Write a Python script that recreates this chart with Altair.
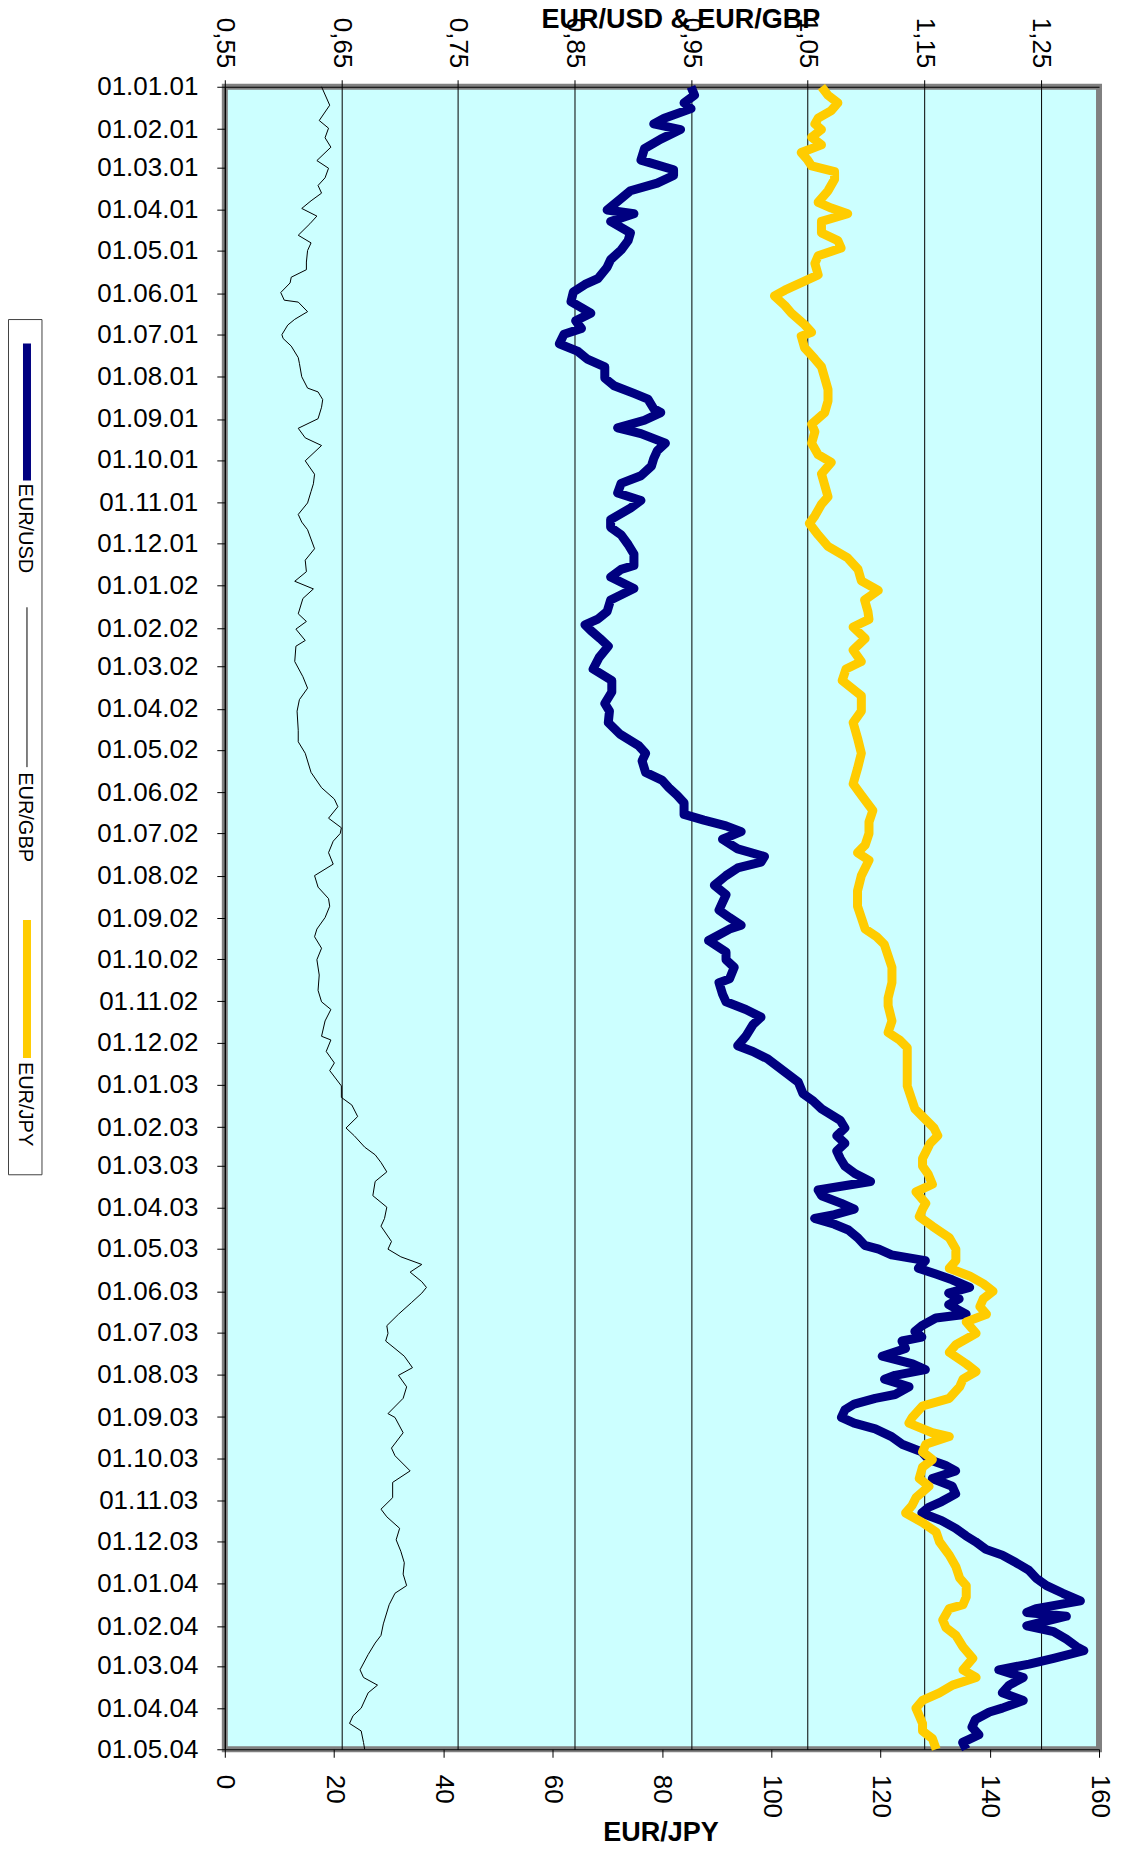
import altair as alt
import pandas as pd

SERIES = ["EUR/USD", "EUR/GBP", "EUR/JPY"]
COLORS = ["#000080", "#000000", "#FFCC00"]
START = "2001-01-01"
END = "2004-05-01"

# days since 01.01.01 and rates
USD_DAYS = [0, 6.2, 11.8, 16.0, 23.0, 27.2, 31.3, 38.3, 45.3, 53.7, 60.7, 64.9, 70.5, 76.1, 81.7, 90.1,
            92.9, 98.5, 106.9, 112.5, 119.4, 126.4, 132.0, 140.4, 144.6, 150.2, 157.2, 165.6, 171.2,
            176.8, 181.0, 188.0, 193.6, 199.2, 204.8, 213.1, 218.7, 224.3, 228.5, 235.5, 238.3, 243.9,
            249.5, 253.7, 260.7, 266.3, 271.9, 277.5, 284.5, 290.1, 297.1, 302.6, 308.2, 316.6, 322.2,
            327.8, 334.8, 341.8, 350.2, 353.0, 358.6, 367.0, 375.4, 383.8, 389.4, 393.5, 397.7, 403.6,
            409.2, 417.6, 425.9, 434.3, 442.7, 451.1, 456.7, 465.1, 473.5, 481.9, 487.5, 493.1, 501.5,
            507.1, 512.7, 518.2, 523.8, 532.2, 536.4, 540.6, 544.8, 550.4, 557.4, 563.0, 567.2, 571.4,
            577.0, 584.0, 591.0, 596.6, 602.2, 607.7, 613.3, 616.1, 624.5, 632.9, 638.5, 644.1, 652.5,
            655.3, 663.7, 669.3, 674.9, 680.5, 686.1, 694.5, 701.4, 705.6, 711.2, 719.6, 728.0, 736.4,
            742.0, 747.6, 756.0, 761.6, 767.2, 772.8, 778.4, 783.9, 789.5, 795.1, 800.7, 806.9, 811.1,
            816.7, 820.9, 825.0, 827.8, 832.0, 836.2, 841.8, 847.4, 850.2, 854.4, 858.6, 864.2, 868.4,
            872.6, 878.2, 882.4, 886.6, 890.8, 897.8, 900.6, 906.2, 910.4, 914.5, 917.4, 922.9, 928.5,
            934.1, 938.3, 942.5, 945.3, 950.9, 956.5, 959.3, 963.5, 967.7, 973.3, 977.5, 981.7, 987.3,
            992.9, 998.5, 1004.1, 1008.2, 1012.4, 1018.0, 1023.6, 1029.2, 1034.8, 1039.0, 1043.2, 1048.8,
            1054.4, 1060.0, 1064.2, 1069.8, 1074.0, 1079.6, 1085.2, 1090.8, 1096.3, 1101.9, 1107.5,
            1113.1, 1115.9, 1118.7, 1125.7, 1129.9, 1135.5, 1141.1, 1143.9, 1149.5, 1153.7, 1157.9,
            1163.5, 1169.1, 1174.7, 1180.3, 1185.9, 1188.7, 1194.2, 1199.8, 1205.4, 1211.0, 1216.0]
USD_VALUES = [0.950, 0.953, 0.944, 0.950, 0.927, 0.918, 0.941, 0.924, 0.910, 0.907, 0.935, 0.935, 0.921,
              0.898, 0.890, 0.878, 0.901, 0.881, 0.898, 0.896, 0.890, 0.881, 0.878, 0.870, 0.859, 0.849,
              0.847, 0.864, 0.851, 0.856, 0.841, 0.837, 0.853, 0.861, 0.876, 0.876, 0.884, 0.901, 0.913,
              0.918, 0.924, 0.910, 0.887, 0.907, 0.928, 0.921, 0.918, 0.916, 0.907, 0.890, 0.887, 0.907,
              0.898, 0.881, 0.881, 0.890, 0.896, 0.901, 0.901, 0.890, 0.881, 0.901, 0.881, 0.878, 0.870,
              0.859, 0.864, 0.872, 0.879, 0.871, 0.866, 0.882, 0.882, 0.876, 0.880, 0.879, 0.889, 0.905,
              0.911, 0.908, 0.911, 0.925, 0.931, 0.938, 0.944, 0.944, 0.961, 0.980, 0.993, 0.977, 0.990,
              1.013, 1.010, 0.990, 0.980, 0.970, 0.980, 0.977, 0.974, 0.983, 0.993, 0.983, 0.965, 0.980,
              0.980, 0.987, 0.983, 0.974, 0.977, 0.980, 0.997, 1.010, 1.003, 0.997, 0.990, 1.003, 1.016,
              1.029, 1.042, 1.046, 1.055, 1.062, 1.078, 1.082, 1.075, 1.082, 1.075, 1.078, 1.082, 1.091,
              1.104, 1.059, 1.062, 1.079, 1.090, 1.073, 1.056, 1.073, 1.085, 1.093, 1.099, 1.111, 1.122,
              1.151, 1.145, 1.160, 1.174, 1.189, 1.171, 1.180, 1.171, 1.186, 1.160, 1.148, 1.142, 1.148,
              1.131, 1.134, 1.114, 1.140, 1.151, 1.125, 1.116, 1.137, 1.125, 1.108, 1.090, 1.082, 1.079,
              1.090, 1.108, 1.122, 1.131, 1.148, 1.154, 1.168, 1.177, 1.157, 1.174, 1.177, 1.165, 1.154,
              1.148, 1.165, 1.177, 1.186, 1.194, 1.203, 1.217, 1.229, 1.240, 1.246, 1.255, 1.269, 1.284,
              1.246, 1.238, 1.272, 1.238, 1.261, 1.272, 1.281, 1.287, 1.261, 1.240, 1.214, 1.235, 1.223,
              1.217, 1.235, 1.217, 1.206, 1.194, 1.191, 1.197, 1.183, 1.186]

GBP_DAYS = [0, 13.5, 24.7, 30.3, 37.3, 44.2, 54.0, 59.6, 66.6, 72.2, 77.8, 83.4, 89.0, 94.6, 100.2, 108.6,
            114.2, 119.8, 128.2, 133.8, 139.3, 143.5, 150.5, 156.1, 157.5, 164.5, 170.1, 174.3, 181.3,
            184.1, 189.7, 198.1, 202.3, 212.1, 220.4, 223.2, 228.8, 234.4, 242.8, 249.8, 256.8, 262.4,
            273.6, 283.4, 290.4, 296.0, 304.4, 312.8, 318.4, 324.0, 337.9, 346.3, 354.7, 361.7, 367.3,
            374.3, 385.5, 391.1, 396.7, 405.0, 409.2, 420.4, 431.5, 439.9, 448.3, 456.7, 470.7, 479.1,
            487.5, 501.5, 512.7, 521.0, 526.6, 535.0, 542.0, 546.2, 551.8, 560.2, 568.6, 577.0, 585.4,
            593.8, 599.4, 607.7, 616.1, 621.7, 630.1, 638.5, 649.7, 660.9, 669.3, 674.9, 683.3, 694.5,
            697.2, 705.6, 714.0, 719.6, 730.8, 739.2, 744.8, 753.2, 761.6, 767.2, 775.6, 781.2, 786.8,
            793.7, 800.7, 811.1, 819.5, 827.8, 833.4, 844.6, 850.2, 855.8, 861.4, 867.0, 874.0, 878.2,
            882.4, 889.4, 897.8, 906.2, 911.8, 917.4, 922.9, 928.5, 936.9, 942.5, 950.9, 959.3, 970.5,
            973.3, 984.5, 995.7, 1001.3, 1012.4, 1020.8, 1032.0, 1040.4, 1046.0, 1054.4, 1062.8, 1071.2,
            1079.6, 1087.9, 1096.3, 1101.9, 1110.3, 1124.3, 1132.7, 1138.3, 1146.7, 1157.9, 1163.5,
            1169.1, 1174.7, 1185.9, 1191.5, 1197.1, 1202.6, 1211.0, 1216.0]
GBP_VALUES = [0.633, 0.640, 0.631, 0.639, 0.636, 0.641, 0.629, 0.639, 0.636, 0.630, 0.633, 0.624, 0.616,
              0.629, 0.623, 0.613, 0.624, 0.621, 0.620, 0.620, 0.607, 0.606, 0.598, 0.601, 0.613, 0.621,
              0.610, 0.604, 0.599, 0.600, 0.607, 0.613, 0.614, 0.616, 0.621, 0.630, 0.634, 0.633, 0.630,
              0.613, 0.619, 0.633, 0.619, 0.627, 0.626, 0.624, 0.621, 0.613, 0.616, 0.621, 0.627, 0.619,
              0.620, 0.610, 0.626, 0.617, 0.613, 0.620, 0.611, 0.619, 0.611, 0.610, 0.617, 0.621, 0.614,
              0.612, 0.613, 0.613, 0.619, 0.624, 0.633, 0.644, 0.647, 0.639, 0.650, 0.649, 0.643, 0.639,
              0.643, 0.627, 0.630, 0.639, 0.640, 0.636, 0.629, 0.627, 0.633, 0.629, 0.631, 0.630, 0.633,
              0.641, 0.636, 0.633, 0.641, 0.637, 0.644, 0.640, 0.650, 0.650, 0.659, 0.664, 0.654, 0.661,
              0.670, 0.679, 0.684, 0.689, 0.679, 0.677, 0.689, 0.687, 0.684, 0.693, 0.690, 0.701, 0.719,
              0.709, 0.719, 0.723, 0.719, 0.710, 0.699, 0.689, 0.690, 0.688, 0.696, 0.704, 0.711, 0.699,
              0.706, 0.703, 0.690, 0.696, 0.703, 0.693, 0.696, 0.709, 0.694, 0.694, 0.684, 0.689, 0.700,
              0.697, 0.701, 0.704, 0.703, 0.706, 0.696, 0.691, 0.686, 0.684, 0.679, 0.673, 0.666, 0.669,
              0.681, 0.673, 0.667, 0.660, 0.657, 0.667, 0.669, 0.670]

JPY_DAYS = [0, 6.2, 11.8, 17.4, 23.0, 27.2, 31.3, 36.9, 42.5, 48.1, 53.7, 57.9, 62.1, 67.7, 76.1, 84.5,
            88.7, 92.9, 98.5, 106.9, 112.5, 118.0, 123.6, 129.2, 137.6, 143.2, 148.8, 153.0, 160.0, 165.6,
            174.0, 179.6, 182.4, 190.8, 199.2, 204.8, 213.1, 221.5, 229.9, 238.3, 246.7, 252.3, 260.7,
            269.1, 274.7, 283.1, 291.5, 299.9, 305.4, 313.8, 319.4, 327.8, 336.2, 344.6, 353.0, 361.4,
            368.4, 375.4, 383.8, 389.6, 395.2, 403.6, 412.0, 420.4, 425.9, 434.3, 445.5, 456.7, 465.1,
            476.3, 487.5, 498.7, 509.9, 518.2, 529.4, 537.8, 546.2, 554.6, 560.2, 565.8, 577.0, 588.2,
            599.4, 607.7, 616.1, 621.7, 627.3, 635.7, 644.1, 655.3, 666.5, 672.1, 683.3, 691.7, 697.2,
            702.8, 711.2, 722.4, 730.8, 739.2, 747.6, 753.2, 761.6, 767.2, 772.8, 778.4, 783.9, 789.5,
            795.1, 802.7, 808.3, 816.7, 820.9, 826.4, 833.4, 841.8, 850.2, 858.6, 864.2, 869.8, 875.4,
            881.0, 886.6, 892.2, 897.8, 903.4, 911.8, 920.1, 925.7, 934.1, 939.7, 945.3, 950.9, 959.3,
            964.9, 973.3, 977.5, 984.5, 987.3, 992.9, 998.5, 1004.1, 1009.6, 1018.0, 1023.6, 1032.0,
            1037.6, 1043.2, 1050.2, 1057.2, 1064.2, 1074.0, 1082.4, 1090.8, 1096.3, 1104.7, 1110.3,
            1113.1, 1121.5, 1127.1, 1132.7, 1141.1, 1149.5, 1157.9, 1163.5, 1169.1, 1174.7, 1180.3,
            1185.9, 1191.5, 1197.1, 1202.6, 1208.2, 1216.0]
JPY_VALUES = [109.2, 110.4, 112.2, 111.0, 108.6, 108.0, 109.2, 107.4, 109.2, 105.5, 106.7, 107.4, 111.6,
              111.6, 110.4, 108.6, 111.0, 114.0, 109.2, 109.2, 112.2, 112.8, 108.6, 108.0, 108.6, 105.5,
              102.5, 100.6, 102.5, 103.7, 106.1, 107.4, 105.5, 106.1, 108.0, 109.2, 109.8, 110.4, 110.4,
              109.8, 107.4, 108.0, 107.4, 108.6, 111.0, 109.2, 109.8, 110.4, 109.2, 108.0, 107.0, 108.6,
              110.4, 114.0, 115.9, 116.5, 119.6, 117.1, 117.7, 117.9, 115.0, 117.2, 115.0, 116.5, 113.7,
              113.0, 116.5, 116.5, 115.0, 115.8, 116.5, 115.8, 115.0, 116.5, 118.6, 117.9, 117.9, 117.2,
              115.8, 117.9, 116.5, 115.8, 115.8, 116.5, 117.2, 119.3, 120.7, 121.4, 122.1, 122.1, 121.4,
              121.4, 122.1, 121.4, 123.5, 124.9, 124.9, 124.9, 124.9, 125.6, 126.3, 127.7, 129.8, 130.5,
              129.1, 128.4, 127.7, 127.7, 128.7, 129.5, 126.5, 128.3, 127.7, 127.1, 129.5, 132.6, 133.8,
              133.8, 132.6, 136.3, 138.8, 140.6, 138.8, 138.2, 139.4, 135.7, 137.5, 133.8, 132.6, 135.7,
              137.5, 135.1, 134.5, 132.6, 127.7, 125.8, 125.2, 129.5, 132.6, 128.3, 127.7, 129.5, 127.7,
              127.1, 128.9, 126.5, 125.8, 124.6, 127.7, 130.2, 130.8, 132.6, 133.8, 134.5, 135.7, 135.7,
              135.1, 132.6, 131.4, 132.0, 133.8, 135.1, 136.9, 135.1, 137.5, 133.2, 130.8, 127.7, 126.5,
              127.1, 127.7, 127.7, 129.5, 130.2]

TOP_TICKS = [0.55, 0.65, 0.75, 0.85, 0.95, 1.05, 1.15, 1.25]
TOP_DOMAIN = [0.55, 1.30]
BOTTOM_TICKS = [0, 20, 40, 60, 80, 100, 120, 140, 160]
BOTTOM_DOMAIN = [0, 160]

DAY_MS = 86400000
START_MS = int(pd.Timestamp(START, tz="UTC").value // 10**6)
END_MS = int(pd.Timestamp(END, tz="UTC").value // 10**6)
MONTH_TICKS = [int(t.value // 10**6) for t in pd.date_range(START, END, freq="MS", tz="UTC")]


def frame(days, values, name):
    return pd.DataFrame({
        "t": [START_MS + d * DAY_MS for d in days],
        "v": values,
        "series": name,
        "i": list(range(len(days))),
    })


FONT = "Liberation Sans"

y_enc = alt.Y(
    "t:T",
    scale=alt.Scale(type="utc", domain=[START_MS, END_MS], reverse=True, nice=False),
    axis=alt.Axis(
        values=MONTH_TICKS, labelExpr="utcFormat(datum.value, '%d.%m.%y')", title=None,
        labelFont=FONT, labelFontSize=26, labelColor="black", tickColor="black", tickSize=8,
        labelPadding=19, domainColor="black", grid=False, labelOverlap=False, labelFlush=False,
    ),
)

top_axis = alt.Axis(
    orient="top", values=TOP_TICKS,
    labelExpr="replace(format(datum.value, '.2f'), '.', ',')",
    labelAngle=90, labelAlign="right", labelBaseline="middle",
    labelFont=FONT, labelFontSize=26, labelColor="black", labelOverlap=False, labelFlush=False,
    tickColor="black", tickSize=7, labelPadding=12, domainColor="black",
    grid=True, gridColor="black", gridWidth=1,
    title="EUR/USD & EUR/GBP", titleFont=FONT, titleFontSize=27, titleFontWeight="bold",
    titleColor="black", titleX=456, titleY=-67, titleAlign="center", titleBaseline="middle",
    titleAngle=0,
)
bottom_axis = alt.Axis(
    orient="bottom", values=BOTTOM_TICKS, format="d",
    labelAngle=90, labelAlign="left", labelBaseline="middle",
    labelFont=FONT, labelFontSize=26, labelColor="black", labelOverlap=False, labelFlush=False,
    tickColor="black", tickSize=8, labelPadding=17, domainColor="black", grid=False,
    title="EUR/JPY", titleFont=FONT, titleFontSize=27, titleFontWeight="bold",
    titleColor="black", titleX=436, titleY=83, titleAlign="center", titleBaseline="middle",
    titleAngle=0,
)

usd = alt.Chart(frame(USD_DAYS, USD_VALUES, SERIES[0])).mark_line(
    color=COLORS[0], strokeWidth=9, strokeJoin="round"
).encode(
    x=alt.X("v:Q", scale=alt.Scale(domain=TOP_DOMAIN, nice=False, zero=False), axis=top_axis),
    y=y_enc, order="i:Q",
)
gbp = alt.Chart(frame(GBP_DAYS, GBP_VALUES, SERIES[1])).mark_line(
    color=COLORS[1], strokeWidth=1
).encode(
    x=alt.X("v:Q", scale=alt.Scale(domain=TOP_DOMAIN, nice=False, zero=False), axis=None),
    y=y_enc, order="i:Q",
)
jpy = alt.Chart(frame(JPY_DAYS, JPY_VALUES, SERIES[2])).mark_line(
    color=COLORS[2], strokeWidth=9, strokeJoin="round"
).encode(
    x=alt.X("v:Q", scale=alt.Scale(domain=BOTTOM_DOMAIN, nice=False, zero=False), axis=bottom_axis),
    y=y_enc, order="i:Q",
)

# hand-built rotated legend (left of the plot)
one = pd.DataFrame({"k": [0]})
legend_layers = [
    alt.Chart(one).mark_rect(fill="white", stroke="#404040", strokeWidth=1).encode(
        x=alt.value(-216.5), x2=alt.value(-183), y=alt.value(233), y2=alt.value(1089)
    )
]
SYMBOL_SPANS = [(257, 394), (521, 681), (834, 972)]
LABEL_STARTS = [397, 686, 976]
SYMBOL_WIDTHS = [8, 1, 8]
for name, color, (s0, s1), ls, sw in zip(SERIES, COLORS, SYMBOL_SPANS, LABEL_STARTS, SYMBOL_WIDTHS):
    legend_layers.append(
        alt.Chart(one).mark_rule(color=color, strokeWidth=sw, strokeCap="butt").encode(
            x=alt.value(-198), y=alt.value(s0), y2=alt.value(s1)
        )
    )
    legend_layers.append(
        alt.Chart(one).mark_text(
            text=name, angle=90, align="left", baseline="middle", font=FONT, fontSize=20, color="black"
        ).encode(x=alt.value(-200), y=alt.value(ls))
    )

chart = alt.layer(usd, gbp, jpy, *legend_layers).resolve_scale(x="independent").properties(
    width=875, height=1664,
    padding={"left": 217, "top": 78, "right": 20, "bottom": 100},
    autosize=alt.AutoSizeParams(type="none"),
).configure_view(fill="#CCFFFF", stroke="#808080", strokeWidth=6)

chart.save("out.html", embed_options={"renderer": "svg", "actions": False})
